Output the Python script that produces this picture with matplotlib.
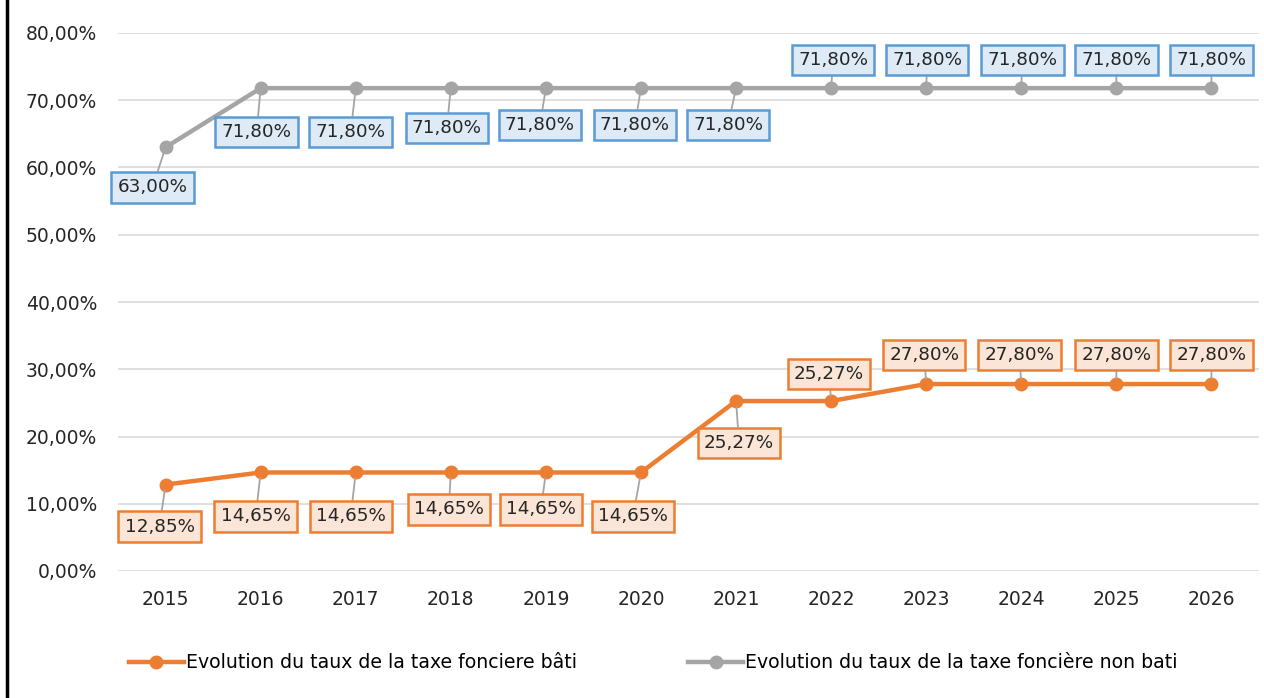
import matplotlib.pyplot as plt
from matplotlib.lines import Line2D

# Data
years = ['2015', '2016', '2017', '2018', '2019', '2020',
         '2021', '2022', '2023', '2024', '2025', '2026']
bati = [12.85, 14.65, 14.65, 14.65, 14.65, 14.65,
        25.27, 25.27, 27.80, 27.80, 27.80, 27.80]
non_bati = [63.00, 71.80, 71.80, 71.80, 71.80, 71.80,
            71.80, 71.80, 71.80, 71.80, 71.80, 71.80]
yticks = [0, 10, 20, 30, 40, 50, 60, 70, 80]

label_bati = 'Evolution du taux de la taxe fonciere bâti'
label_non_bati = 'Evolution du taux de la taxe foncière non bati'

# label offsets in pixels (dx, dy) from each point
off_bati = [(-6, -42), (-5, -44), (-5, -44), (-2, -37), (-5, -37), (-8, -44),
            (3, -42), (-2, 27), (-2, 29), (-2, 29), (0, 29), (0, 29)]
off_non_bati = [(-13, -40), (-4, -44), (-5, -44), (-4, -40), (-6, -37), (-6, -37),
                (-8, -37), (2, 28), (1, 28), (1, 28), (0, 28), (0, 28)]

orange = '#ED7D31'
gray = '#A5A5A5'

fig = plt.figure(figsize=(12.64, 6.98), dpi=100)
ax = fig.add_axes([118 / 1264, 1 - 571 / 698, (1259 - 118) / 1264, (571 - 33) / 698])

x = list(range(len(years)))
ax.plot(x, bati, color=orange, lw=3.2, marker='o', ms=9, solid_capstyle='round', zorder=3)
ax.plot(x, non_bati, color=gray, lw=3.2, marker='o', ms=9, solid_capstyle='round', zorder=3)


def fmt(v):
    return f'{v:.2f}%'.replace('.', ',')


def add_labels(vals, offs, edge, face):
    for xi, v, (dx, dy) in zip(x, vals, offs):
        ax.annotate(fmt(v), (xi, v), xytext=(dx, dy), textcoords='offset pixels',
                    ha='center', va='center', fontsize=13.2, color='#262626',
                    bbox=dict(boxstyle='square,pad=0.34', fc=face, ec=edge, lw=1.8),
                    arrowprops=dict(arrowstyle='-', color='#A5A5A5', lw=1.3,
                                    shrinkA=0, shrinkB=4),
                    zorder=5)


add_labels(non_bati, off_non_bati, '#5B9BD5', '#DEEBF7')
add_labels(bati, off_bati, orange, '#FBE5D6')

ax.set_xlim(-0.5, len(years) - 0.5)
ax.set_ylim(0, 80)
ax.set_yticks(yticks)
ax.set_yticklabels([f'{t:.2f}%'.replace('.', ',') for t in yticks])
ax.set_xticks(x)
ax.set_xticklabels(years)
ax.tick_params(axis='y', length=0, pad=15, labelsize=13.5, labelcolor='#262626')
ax.tick_params(axis='x', length=0, pad=14, labelsize=13.5, labelcolor='#262626')
ax.grid(axis='y', color='#D9D9D9', lw=1.2)
ax.set_axisbelow(True)
for s in ax.spines.values():
    s.set_visible(False)

handles = [Line2D([], [], color=orange, lw=3.2, marker='o', ms=9),
           Line2D([], [], color=gray, lw=3.2, marker='o', ms=9)]
fig.legend(handles, [label_bati, label_non_bati], loc='center left',
           bbox_to_anchor=(129 / 1264, 1 - 663 / 698), ncol=2, frameon=False,
           prop={'family': 'DejaVu Sans', 'size': 13.6},
           borderaxespad=0, borderpad=0,
           handlelength=2.9, handletextpad=0.1, columnspacing=5.9)

# left border of the picture
fig.add_artist(Line2D([7 / 1264, 7 / 1264], [0, 1], color='black', lw=2.5,
                      transform=fig.transFigure))

fig.savefig('out.png', dpi=100)
